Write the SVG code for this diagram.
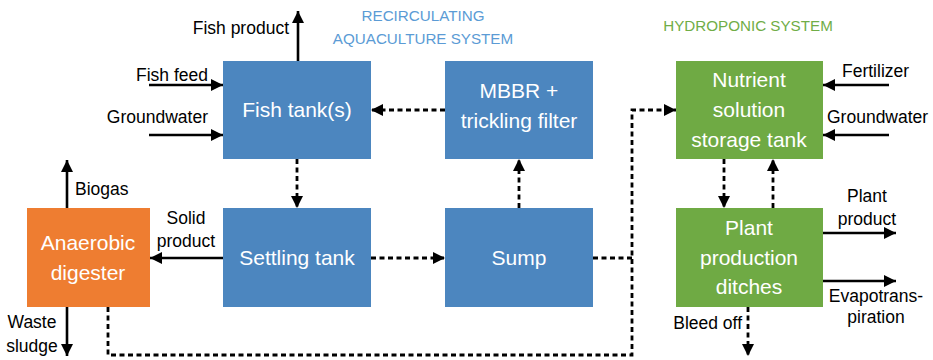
<svg xmlns="http://www.w3.org/2000/svg" width="933" height="360" viewBox="0 0 933 360">
<defs>
<marker id="ah" markerUnits="userSpaceOnUse" markerWidth="13" markerHeight="12" refX="12" refY="6" orient="auto">
<path d="M0,0 L12,6 L0,12 Z" fill="#000"/>
</marker>
<style>
.box{stroke:none}
.blue{fill:#4c86bf}
.orange{fill:#ee7d31}
.green{fill:#6faa44}
.bt{font-family:"Liberation Sans",Arial,sans-serif;font-size:21px;fill:#fff;text-anchor:middle}
.lb{font-family:"Liberation Sans",Arial,sans-serif;font-size:17.5px;fill:#000}
.hd{font-family:"Liberation Sans",Arial,sans-serif;font-size:15.2px;text-anchor:middle}
.s{fill:none;stroke:#000;stroke-width:2.6}
.d{fill:none;stroke:#000;stroke-width:2.8;stroke-dasharray:5 3.5}
</style>
</defs>
<rect width="933" height="360" fill="#fff"/>

<text class="hd" x="423" y="21" fill="#5b9bd5">RECIRCULATING</text>
<text class="hd" x="423" y="44" fill="#5b9bd5">AQUACULTURE SYSTEM</text>
<text class="hd" x="748" y="31" fill="#70ad47">HYDROPONIC SYSTEM</text>

<g id="fishtank">
<rect class="box blue" x="223" y="61" width="148" height="98"/>
<text class="bt" x="297" y="117">Fish tank(s)</text>
</g>
<g id="mbbr">
<rect class="box blue" x="445" y="61" width="148" height="98"/>
<text class="bt" x="519" y="98">MBBR +</text>
<text class="bt" x="519" y="128">trickling filter</text>
</g>
<g id="settling">
<rect class="box blue" x="223" y="208" width="148" height="99"/>
<text class="bt" x="297" y="265">Settling tank</text>
</g>
<g id="sump">
<rect class="box blue" x="445" y="208" width="148" height="99"/>
<text class="bt" x="519" y="265">Sump</text>
</g>
<g id="digester">
<rect class="box orange" x="27" y="208" width="123" height="99"/>
<text class="bt" x="88" y="250">Anaerobic</text>
<text class="bt" x="88" y="280">digester</text>
</g>
<g id="nutrient">
<rect class="box green" x="676" y="61" width="147" height="98"/>
<text class="bt" x="749" y="87">Nutrient</text>
<text class="bt" x="749" y="117">solution</text>
<text class="bt" x="749" y="147">storage tank</text>
</g>
<g id="plant">
<rect class="box green" x="676" y="208" width="147" height="99"/>
<text class="bt" x="749" y="235">Plant</text>
<text class="bt" x="749" y="265">production</text>
<text class="bt" x="749" y="294">ditches</text>
</g>

<g id="connectors">
<line class="s" x1="298" y1="61" x2="298" y2="11" marker-end="url(#ah)"/>
<line class="s" x1="149" y1="85" x2="223" y2="85" marker-end="url(#ah)"/>
<line class="s" x1="149" y1="135" x2="223" y2="135" marker-end="url(#ah)"/>
<line class="d" x1="445" y1="110" x2="371" y2="110" marker-end="url(#ah)"/>
<line class="d" x1="297" y1="159" x2="297" y2="208" marker-end="url(#ah)"/>
<line class="s" x1="67" y1="208" x2="67" y2="160" marker-end="url(#ah)"/>
<line class="s" x1="223" y1="258" x2="150" y2="258" marker-end="url(#ah)"/>
<line class="s" x1="67" y1="307" x2="67" y2="356" marker-end="url(#ah)"/>
<line class="d" x1="371" y1="258" x2="445" y2="258" marker-end="url(#ah)"/>
<line class="d" x1="519" y1="208" x2="519" y2="159" marker-end="url(#ah)"/>
<line class="d" x1="593" y1="258" x2="632" y2="258"/>
<polyline class="d" points="108,307 108,355 632,355 632,110 676,110" marker-end="url(#ah)"/>
<line class="d" x1="724" y1="159" x2="724" y2="208" marker-end="url(#ah)"/>
<line class="d" x1="773" y1="208" x2="773" y2="159" marker-end="url(#ah)"/>
<line class="s" x1="889" y1="85" x2="823" y2="85" marker-end="url(#ah)"/>
<line class="s" x1="889" y1="135" x2="823" y2="135" marker-end="url(#ah)"/>
<line class="s" x1="823" y1="233" x2="896" y2="233" marker-end="url(#ah)"/>
<line class="s" x1="823" y1="281" x2="896" y2="281" marker-end="url(#ah)"/>
<line class="d" x1="748" y1="307" x2="748" y2="356" marker-end="url(#ah)"/>
</g>

<g id="labels">
<text class="lb" x="289" y="34" text-anchor="end">Fish product</text>
<text class="lb" x="208" y="81" text-anchor="end">Fish feed</text>
<text class="lb" x="208" y="123" text-anchor="end">Groundwater</text>
<text class="lb" x="75" y="195">Biogas</text>
<text class="lb" x="186" y="224" text-anchor="middle">Solid</text>
<text class="lb" x="186" y="247" text-anchor="middle">product</text>
<text class="lb" x="32" y="328" text-anchor="middle">Waste</text>
<text class="lb" x="32" y="352" text-anchor="middle">sludge</text>
<text class="lb" x="842" y="77">Fertilizer</text>
<text class="lb" x="827" y="123">Groundwater</text>
<text class="lb" x="867" y="202" text-anchor="middle">Plant</text>
<text class="lb" x="867" y="225" text-anchor="middle">product</text>
<text class="lb" x="876" y="302" text-anchor="middle">Evapotrans-</text>
<text class="lb" x="876" y="323" text-anchor="middle">piration</text>
<text class="lb" x="742" y="329" text-anchor="end">Bleed off</text>
</g>
</svg>
